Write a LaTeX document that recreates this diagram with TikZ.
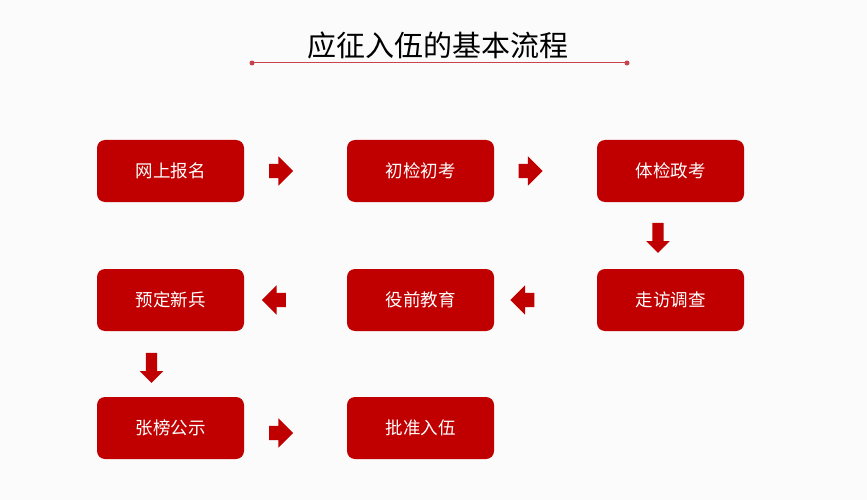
\documentclass[tikz,border=0pt]{standalone}
\usepackage{fontspec}
\newfontfamily\cjk{Noto Sans CJK SC}
\usetikzlibrary{shapes.arrows}
\definecolor{boxred}{HTML}{C00000}
\definecolor{linered}{HTML}{C8434F}
\definecolor{bgc}{HTML}{FCFBFB}
\tikzset{
  stepbox/.style={draw=none, fill=boxred, rounded corners=8pt, minimum width=147pt, minimum height=62pt, text=white, font=\cjk\fontsize{17.5}{17.5}\selectfont, inner sep=0pt},
  harrow/.style={single arrow, fill=boxred, draw=none, inner sep=0pt, text height=14pt, text depth=0pt, text width=0pt, single arrow head extend=7.5pt, minimum height=24pt, single arrow head indent=0pt},
  varrow/.style={single arrow, fill=boxred, draw=none, inner sep=0pt, text height=11pt, text depth=0pt, text width=0pt, single arrow head extend=6pt, minimum height=30pt, single arrow head indent=0pt, rotate=-90},
}
\begin{document}
\begin{tikzpicture}[x=1pt,y=-1pt]
\fill[bgc] (0,0) rectangle (867,500);
\useasboundingbox (0,0) rectangle (867,500);
\node[font=\cjk\fontsize{29}{29}\selectfont, text=black] (title) at (438,45) {应征入伍的基本流程};
\coordinate (la) at (252,63);
\coordinate (lb) at (627,63);
\draw[linered, line width=1pt] (la) -- (lb);
\fill[linered] (la) circle (2.5pt) (lb) circle (2.5pt);
\node[stepbox] (b1) at (170.5,171) {网上报名};
\node[stepbox] (b2) at (420.5,171) {初检初考};
\node[stepbox] (b3) at (670.5,171) {体检政考};
\node[stepbox] (b4) at (670.5,300) {走访调查};
\node[stepbox] (b5) at (420.5,300) {役前教育};
\node[stepbox] (b6) at (170.5,300) {预定新兵};
\node[stepbox] (b7) at (170.5,428) {张榜公示};
\node[stepbox] (b8) at (420.5,428) {批准入伍};
\node[harrow] (a1) at (277.5,171) {};
\node[harrow] (a2) at (527,171) {};
\node[varrow] (a3) at (658,235) {};
\node[harrow, shape border rotate=180] (a4) at (526,300) {};
\node[harrow, shape border rotate=180] (a5) at (277.5,300) {};
\node[varrow] (a6) at (151.5,365) {};
\node[harrow] (a7) at (277.5,433) {};
\end{tikzpicture}
\end{document}
